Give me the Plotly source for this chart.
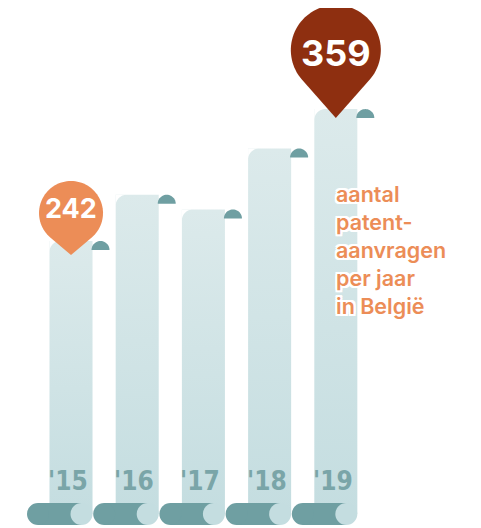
import math
import plotly.graph_objects as go

# ---------------- data ----------------
years = ["'15", "'16", "'17", "'18", "'19"]
values = [242, 283, 270, 324, 359]
pin_index = [0, 4]           # bars carrying a value pin
pin_labels = ["242", "359"]
side_text_lines = ["aantal", "patent-", "aanvragen", "per jaar", "in België"]

# ---------------- style ----------------
W, H = 473, 520
BAR_W = 0.65
X_RANGE = [-0.9517, 6.193]
Y_RANGE = [-12.41, 448.58]
BAR_LIGHT_TOP = "#dceaeb"
BAR_LIGHT_BOT = "#c4dde0"
TEAL = "#6f9fa2"
ORANGE = "#ec8d57"
RUST = "#8e2f10"
YEAR_COL = "#7aa5a8"


def circle_path_pts(cx, cy, r, a0, a1, n=48):
    pts = []
    for k in range(n + 1):
        a = a0 + (a1 - a0) * k / n
        pts.append((cx + r * math.cos(a), cy + r * math.sin(a)))
    return pts


def to_path(pts):
    s = "M %.2f,%.2f " % pts[0]
    for p in pts[1:]:
        s += "L %.2f,%.2f " % p
    return s + "Z"


def teardrop(c, tip, r):
    # tip at (0,-tip), circle center at (0,c), positive = up
    d = c + tip
    alpha = math.acos(r / d)
    pts = [(0, -tip)]
    pts += circle_path_pts(0, c, r, -math.pi / 2 + alpha, 3 * math.pi / 2 - alpha, 72)
    return to_path(pts)


fig = go.Figure()

# columns
for i, v in enumerate(values):
    fig.add_trace(go.Scatter(
        x=[i - BAR_W / 2, i - BAR_W / 2, i + BAR_W / 2, i + BAR_W / 2],
        y=[0, v, v, 0],
        mode="lines", line=dict(width=0), fill="toself",
        fillgradient=dict(type="vertical",
                          colorscale=[[0, BAR_LIGHT_BOT], [1, BAR_LIGHT_TOP]]),
        hoverinfo="skip", showlegend=False,
    ))

shapes = []
for i, v in enumerate(values):
    # rounded top-left corner mask (white)
    r = 11
    pts = [(0, 0), (r, 0)] + circle_path_pts(r, -r, r, math.pi / 2, math.pi, 16)[1:] + [(0, -r)]
    shapes.append(dict(type="path", xref="x", yref="y", xsizemode="pixel", ysizemode="pixel",
                       xanchor=i - BAR_W / 2, yanchor=v, path=to_path(pts),
                       fillcolor="white", line=dict(width=0), layer="above"))
    # curl dome on the top right
    dome = circle_path_pts(8, -9, 9, 0, math.pi, 24)
    shapes.append(dict(type="path", xref="x", yref="y", xsizemode="pixel", ysizemode="pixel",
                       xanchor=i + BAR_W / 2, yanchor=v, path=to_path(dome),
                       fillcolor=TEAL, line=dict(width=0), layer="above"))
    # bottom roll
    shapes.append(dict(type="rect", xref="x", yref="y", xsizemode="pixel", ysizemode="pixel",
                       xanchor=i, yanchor=0, x0=-33, x1=10.5, y0=-11, y1=11,
                       fillcolor=TEAL, line=dict(width=0), layer="above"))
    shapes.append(dict(type="circle", xref="x", yref="y", xsizemode="pixel", ysizemode="pixel",
                       xanchor=i, yanchor=0, x0=-44, x1=-22, y0=-11, y1=11,
                       fillcolor=TEAL, line=dict(width=0), layer="above"))
    shapes.append(dict(type="circle", xref="x", yref="y", xsizemode="pixel", ysizemode="pixel",
                       xanchor=i, yanchor=0, x0=-0.5, x1=21.5, y0=-11, y1=11,
                       fillcolor=BAR_LIGHT_BOT, line=dict(width=0), layer="above"))

# pins
pin_geom = [dict(c=28, tip=14, r=32, col=ORANGE, size=27, ys=33),
            dict(c=59, tip=9, r=45, col=RUST, size=36, ys=56)]
for k, idx in enumerate(pin_index):
    g = pin_geom[k]
    shapes.append(dict(type="path", xref="x", yref="y", xsizemode="pixel", ysizemode="pixel",
                       xanchor=idx, yanchor=values[idx], path=teardrop(g["c"], g["tip"], g["r"]),
                       fillcolor=g["col"], line=dict(width=0), layer="above"))

annotations = []
for k, idx in enumerate(pin_index):
    g = pin_geom[k]
    annotations.append(dict(x=idx, y=values[idx], xref="x", yref="y", text=pin_labels[k],
                            showarrow=False, yshift=g["ys"],
                            font=dict(family="Inter", size=g["size"], color="white", weight=700)))

for i, yl in enumerate(years):
    annotations.append(dict(x=i, y=0, xref="x", yref="y", text=yl, showarrow=False,
                            yshift=33, xshift=-3,
                            font=dict(family="Liberation Sans Narrow, DejaVu Sans Condensed, Inter",
                                      size=26, color=YEAR_COL, weight=700)))

halo = ", ".join("%dpx %dpx 0 white" % (dx, dy) for dx, dy in
                 [(2, 0), (-2, 0), (0, 2), (0, -2), (2, 2), (-2, -2), (2, -2), (-2, 2)])
annotations.append(dict(x=326 / W, y=1 - 171 / H, xref="paper", yref="paper",
                        xanchor="left", yanchor="top", align="left",
                        text="<br>".join(side_text_lines), showarrow=False,
                        font=dict(family="Inter", size=21.5, color=ORANGE, weight=600, shadow=halo)))

fig.update_layout(
    width=W, height=H, autosize=False,
    margin=dict(l=0, r=0, t=0, b=0),
    paper_bgcolor="white", plot_bgcolor="white",
    xaxis=dict(range=X_RANGE, visible=False, fixedrange=True),
    yaxis=dict(range=Y_RANGE, visible=False, fixedrange=True),
    shapes=shapes, annotations=annotations, showlegend=False,
)

fig.write_html("out.html")
